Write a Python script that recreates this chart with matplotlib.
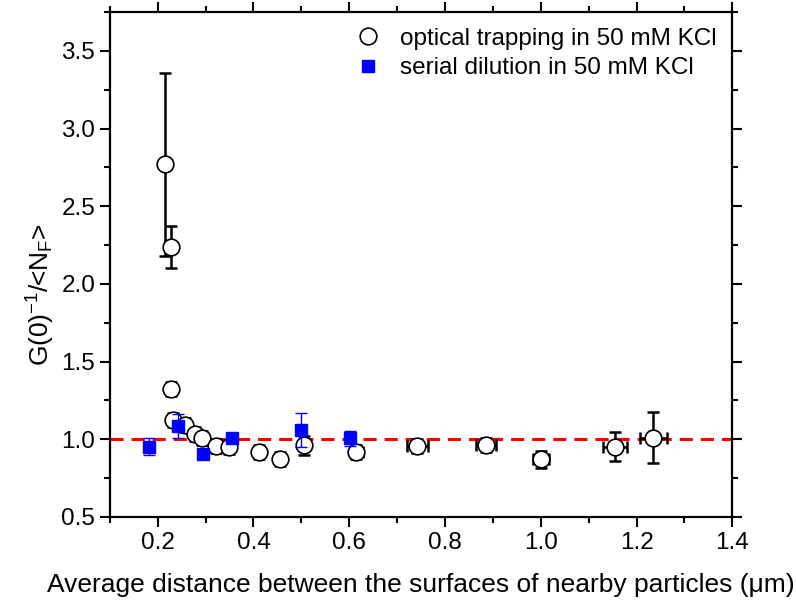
import matplotlib
matplotlib.use("Agg")
import matplotlib.pyplot as plt
from matplotlib.ticker import MultipleLocator, FormatStrFormatter

plt.rcParams['font.family'] = ['Liberation Sans', 'DejaVu Sans']
plt.rcParams['mathtext.fontset'] = 'custom'
plt.rcParams['mathtext.rm'] = 'Liberation Sans'
plt.rcParams['mathtext.it'] = 'Liberation Sans'

# optical trapping in 50 mM KCl (open circles)
trap_x = [0.215, 0.228, 0.228, 0.232, 0.257, 0.278, 0.292, 0.322, 0.348,
          0.411, 0.456, 0.506, 0.615, 0.742, 0.885, 1.001, 1.155, 1.235]
trap_y = [2.77, 2.24, 1.325, 1.125, 1.09, 1.035, 1.005, 0.955, 0.95,
          0.915, 0.87, 0.96, 0.915, 0.955, 0.96, 0.87, 0.953, 1.01]
trap_xerr = [0.0, 0.0, 0.005, 0.006, 0.006, 0.006, 0.006, 0.008, 0.008,
             0.01, 0.01, 0.012, 0.014, 0.022, 0.021, 0.017, 0.026, 0.028]
trap_yerr = [0.59, 0.135, 0.045, 0.045, 0.045, 0.045, 0.045, 0.045, 0.045,
             0.045, 0.045, 0.06, 0.045, 0.045, 0.045, 0.055, 0.093, 0.165]

# serial dilution in 50 mM KCl (blue squares)
dil_x = [0.182, 0.243, 0.295, 0.355, 0.499, 0.601]
dil_y = [0.953, 1.086, 0.904, 1.005, 1.06, 1.005]
dil_yerr = [0.055, 0.075, 0.02, 0.03, 0.11, 0.05]

ref_level = 1.0

fig = plt.figure(figsize=(7.96, 6.06), dpi=100)
ax = fig.add_axes([0.138, 0.147, 0.782, 0.833])

ax.axhline(ref_level, color='#ff0000', lw=2.2, linestyle=(0, (4.3, 2.6)), zorder=1)

ax.errorbar(trap_x, trap_y, xerr=trap_xerr, yerr=trap_yerr, fmt='none',
            ecolor='black', elinewidth=1.8, capsize=4.3, capthick=1.8, zorder=2)
ax.plot(trap_x, trap_y, 'o', ms=12, mfc='white', mec='black', mew=1.2,
        ls='none', zorder=3, label='optical trapping in 50 mM KCl')

ax.errorbar(dil_x, dil_y, yerr=dil_yerr, fmt='none', ecolor='#0000ff',
            elinewidth=1.0, capsize=4.3, capthick=1.0, zorder=4)
ax.plot(dil_x, dil_y, 's', ms=8, mfc='#0000ff', mec='#0000ff',
        ls='none', zorder=5, label='serial dilution in 50 mM KCl')

ax.set_xlim(0.1, 1.4)
ax.set_ylim(0.5, 3.75)
ax.xaxis.set_major_locator(MultipleLocator(0.2))
ax.xaxis.set_minor_locator(MultipleLocator(0.1))
ax.yaxis.set_major_locator(MultipleLocator(0.5))
ax.yaxis.set_minor_locator(MultipleLocator(0.25))
ax.xaxis.set_major_formatter(FormatStrFormatter('%.1f'))
ax.yaxis.set_major_formatter(FormatStrFormatter('%.1f'))

ax.tick_params(which='both', direction='out', top=True, right=True,
               labeltop=False, labelright=False, width=1.5, labelsize=17.5)
ax.tick_params(which='major', length=7)
ax.tick_params(which='minor', length=4)
for sp in ax.spines.values():
    sp.set_linewidth(1.6)

ax.set_xlabel('Average distance between the surfaces of nearby particles (\u03bcm)',
              fontsize=19, labelpad=14)
ax.set_ylabel('G(0)$^{-1}$/<N$_{F}$>', fontsize=19)
ax.yaxis.set_label_coords(-0.085, 0.44)

ax.legend(loc='upper right', bbox_to_anchor=(1.0, 1.0), frameon=False,
          fontsize=17.5, handletextpad=0.7, labelspacing=0.3,
          borderaxespad=0.25, handlelength=1.2)

fig.savefig('out.png', dpi=100)
